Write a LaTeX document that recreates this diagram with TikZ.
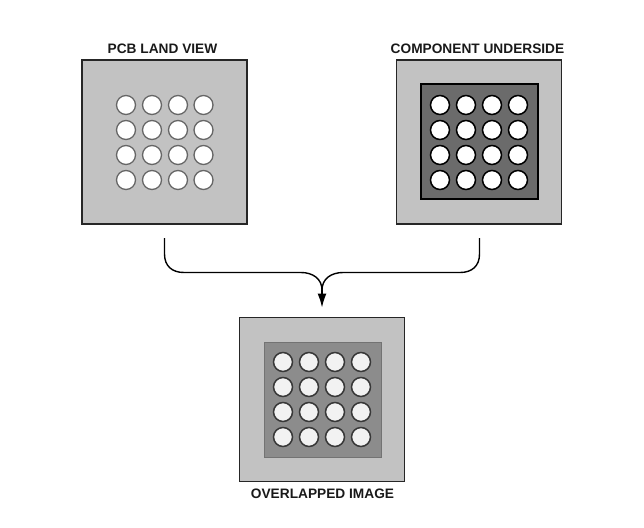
\documentclass[tikz,border=0pt]{standalone}
\usepackage{fontspec}
\setmainfont{Liberation Sans}
\usetikzlibrary{arrows.meta}
\definecolor{outerfill}{gray}{0.76}
\definecolor{darkfill}{gray}{0.42}
\definecolor{midfill}{gray}{0.55}
\tikzset{
  x=1pt,y=-1pt,
  board/.style={draw=black!85,line width=1.8pt,fill=outerfill,rectangle,inner sep=0pt,minimum width=165pt,minimum height=164pt},
  chipdark/.style={draw=black,line width=1.6pt,fill=darkfill,rectangle,inner sep=0pt,minimum width=117pt,minimum height=115pt},
  chipmid/.style={draw=black!55,line width=1pt,fill=midfill,rectangle,inner sep=0pt,minimum width=117pt,minimum height=115pt},
  land/.style={circle,draw=black!60,line width=1.3pt,fill=white,inner sep=0pt,minimum size=19pt},
  ball/.style={circle,draw=black,line width=1.5pt,fill=white,inner sep=0pt,minimum size=19pt},
  overlap/.style={circle,draw=black!78,line width=1.5pt,fill=black!5,inner sep=0pt,minimum size=19pt},
  caption/.style={font=\bfseries\fontsize{13.7}{16}\selectfont,inner sep=0pt,text=black!90},
  flow/.style={line width=1.4pt,draw=black},
}
\begin{document}
\begin{tikzpicture}
\useasboundingbox (0,0) rectangle (644,527);
\node[board] (a) at (164.5,142) {};
\node[board] (b) at (479,142) {};
\node[board] (c) at (322,399.5) {};
\node[chipdark] (bi) at (479.5,141.5) {};
\node[chipmid] (ci) at (322.5,399.5) {};
\node[caption] (ta) at (162.5,49) {PCB LAND VIEW};
\node[caption] (tb) at (477.5,49) {COMPONENT UNDERSIDE};
\node[caption] (tc) at (322.5,494) {OVERLAPPED IMAGE};
\foreach \i/\px in {1/126,2/152,3/178,4/203.5}
  \foreach \j/\py in {1/105,2/130,3/155,4/180}
    \node[land] (la\i\j) at (\px,\py) {};
\foreach \i/\px in {1/440,2/466,3/492,4/518}
  \foreach \j/\py in {1/105,2/130,3/155,4/180}
    \node[ball] (lb\i\j) at (\px,\py) {};
\foreach \i/\px in {1/283,2/309,3/335,4/361}
  \foreach \j/\py in {1/362,2/387,3/412,4/437}
    \node[overlap] (lc\i\j) at (\px,\py) {};
\coordinate (sa) at (164.5,238);
\coordinate (sb) at (479.5,238);
\coordinate (m) at (322,290);
\coordinate (tip) at (322,307.5);
\draw[flow] (sa) -- (164.5,254) .. controls (164.5,266) and (172,272.5) .. (184,272.5) -- (301,272.5) .. controls (313,272.5) and (322,279) .. (m);
\draw[flow] (sb) -- (479.5,254) .. controls (479.5,266) and (472,272.5) .. (460,272.5) -- (343,272.5) .. controls (331,272.5) and (322,279) .. (m);
\draw[flow,-{Latex[length=14pt,width=9pt]}] (m) -- (tip);
\end{tikzpicture}
\end{document}
